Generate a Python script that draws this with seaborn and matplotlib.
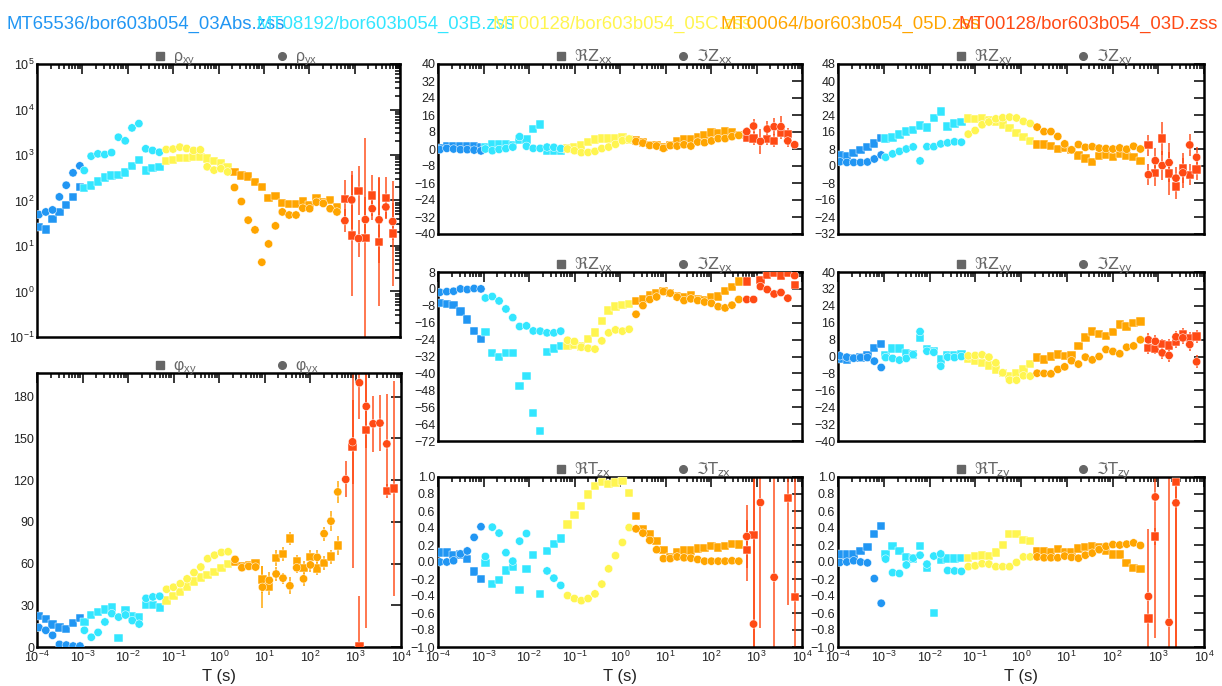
import numpy as np
import pandas as pd
import matplotlib
matplotlib.use("Agg")
import matplotlib.pyplot as plt
import matplotlib.transforms as mtransforms
from matplotlib.ticker import (LogLocator, MultipleLocator, FuncFormatter,
                               LogFormatterSciNotation, NullFormatter)
import seaborn as sns

nan = np.nan

# ---------------- periods of the five files ----------------
T_A = [1.10e-4, 1.56e-4, 2.20e-4, 3.11e-4, 4.40e-4, 6.22e-4, 8.80e-4]
T_B = [1.10e-3, 1.56e-3, 2.20e-3, 3.11e-3, 4.40e-3, 6.22e-3, 8.80e-3,
       1.24e-2, 1.76e-2, 2.49e-2, 3.52e-2, 4.98e-2]
T_C = [0.0704, 0.0996, 0.141, 0.199, 0.282, 0.398, 0.563, 0.797, 1.13, 1.59]
T_D = [2.25, 3.19, 4.51, 6.37, 9.01, 12.7, 18.0, 25.5, 36.1, 51.0, 72.1,
       102, 144, 204, 289, 408]
T_E = [610, 862, 1220, 1724, 2440, 3450, 4880, 6900]

SOURCES = ["A", "B", "C", "D", "E"]
SRC_COLORS = ["#2196F3", "#33E6FF", "#FFF550", "#FFA500", "#FF4A14"]
TITLES = ["MT65536/bor603b054_03Abs.zss", "MT08192/bor603b054_03B.zss",
          "MT00128/bor603b054_05C.zss", "MT00064/bor603b054_05D.zss",
          "MT00128/bor603b054_03D.zss"]

# ---------------- apparent resistivity ----------------
rho_xy = ([26, 23, 39, 55, 79, 120, 196] +
          [186, 214, 262, 320, 354, 360, 412, 568, 770, 457, 522, 550] +
          [730, 780, 870, 870, 910, 890, 835, 750, 650, 540] +
          [425, 355, 337, 253, 196, 113, 125, 87, 83, 83, 97, 80, 110, 92, 102, 72] +
          [109, 17, 163, 15, 129, 12.3, 112, 18.8])
rho_yx = ([49, 56, 62, 120, 217, 405, 578] +
          [457, 942, 1060, 1025, 1130, 2460, 2050, 3940, 4900, 1370, 1260, 1150] +
          [1320, 1350, 1490, 1390, 1260, 1300, 550, 465, 500, 425] +
          [193, 95, 37, 22.6, 4.4, 11.1, 27.7, 56, 48, 48, 68, 66, 92, 86, 66, 56] +
          [36, 103, 14.6, 38, 66, 37.6, 72, 34.5])
rho_xy_E_dlog = [0.42, 1.33, 0.54, 2.2, 0.46, 1.4, 0.46, 1.15]
rho_yx_E_dlog = [0.25, 0.63, 0.4, 0.5, 0.25, 0.95, 0.25, 0.4]

# ---------------- phase ----------------
phi_xy = ([22.4, 20.2, 16.1, 14, 13, 17.3, 21] +
          [18, 23, 25, 27, 28.5, 6.5, 26.5, 22.5, 21.5, 30, 30, 28.5] +
          [33.5, 36.5, 39.5, 43.5, 47, 50, 52, 54, 57, 59.5] +
          [61, 58, 58.5, 60, 48.5, 43.5, 64, 67, 78, 62, 57, 64.5, 56.5, 60.5, 65, 73] +
          [nan, 144, 0.5, 156, nan, nan, 112, 114])
phi_yx = ([14, 12, 8.4, 1.9, 1.4, 0.7, 0.7] +
          [12, 7, 10.5, 18, 24, 21.5, 23, 19, 16.5, 35, 36, 36.5] +
          [41.5, 43, 45.5, 49, 53.5, 57.5, 63.5, 66, 68, 68.5] +
          [63, 57, 58, 57.5, 43, 48, 52.5, 49.5, 44, 57, 49, 59, 64.5, 81.5, 90.5, 111.5] +
          [120.5, 147.5, 190, 173, 160.5, 161, 146, nan])
phi_xy_D_err = [2, 2, 2, 2, 10, 6, 6, 5, 5, 4, 5, 5, 5, 5, 5, 7]
phi_yx_D_err = [2, 2, 2, 2, 15, 6, 5, 4, 6, 4, 5, 5, 5, 5, 7, 8]
phi_xy_E_err = [nan, 87, 36, 142, nan, nan, 5, 77]
phi_yx_E_err = [13, 30, 26, 30, 20, 20, 36, nan]

# ---------------- Zxx ----------------
zxx_re = ([0.5, 1.2, 1.2, 1.2, 1.2, 1.2, 1.0] +
          [1.0, 2.5, 2.5, 2.5, 2.0, 4.5, 4.4, 9.3, 11.6, -0.8, -1.0, -1.0] +
          [0.3, 0.9, 1.7, 3.3, 4.4, 4.9, 5.0, 5.0, 5.5, 4.4] +
          [4.0, 3.0, 2.0, 2.0, 1.0, 2.0, 3.6, 4.7, 4.7, 5.5, 6.6, 7.8, 7.5, 8.3, 8.0, 6.7] +
          [5.3, 5.0, nan, 4.7, 3.9, 7.7, 7.1, nan])
zxx_im = ([-0.3, 0.3, 0.0, -0.3, -0.3, -0.5, -0.9] +
          [0.0, -0.8, -0.2, 0.2, 0.9, 5.8, 1.3, 0.3, 0.3, 0.9, 0.8, 0.2] +
          [0.0, -0.8, -1.7, -1.6, -1.1, 0.2, 0.9, 2.2, 3.9, 4.7] +
          [3.5, 2.8, 1.7, 1.4, 0.3, 1.6, 1.4, 2.0, 1.4, 3.3, 3.0, 3.8, 4.9, 4.9, 5.8, 6.4] +
          [8.2, 10.8, 3.6, 9.4, 10.5, 10.5, 3.8, 2.0])
zxx_re_E_err = [2, 3, nan, 3, 3, 3, 3, nan]
zxx_im_E_err = [2, 3.5, 6, 4, 4, 5, 3, 2]

# ---------------- Zyx ----------------
zyx_re = ([-6.6, -7.1, -7.6, -10.7, -14.5, -19.9, -23.7] +
          [-20.5, -30.4, -32.3, -30.3, -30.4, -45.9, -41.2, -58.8, -67.2, -30.0, -28.2, -27.1] +
          [-27.0, -26.5, -27.3, -23.8, -20.7, -15.3, -10.3, -8.4, -7.6, -7.1] +
          [-5.8, -4.7, -3.0, -2.0, -1.1, -2.0, -3.5, -3.9, -3.2, -4.9, -5.2, -3.9, -3.6, -0.9, 0.8, 3.5] +
          [3.5, nan, 4.3, 6.6, 7.7, 6.3, 7.7, 1.9])
zyx_im = ([-1.6, -1.3, -1.1, 0.0, -0.3, 0.2, 0.0] +
          [-4.3, -3.6, -5.7, -9.5, -13.6, -17.8, -17.5, -19.9, -20.0, -20.8, -20.8, -20.0] +
          [-24.3, -24.9, -27.6, -28.1, -28.5, -24.6, -20.8, -19.4, -20.0, -19.1] +
          [-12.0, -7.9, -5.0, -3.8, -1.3, -2.0, -3.9, -5.5, -4.7, -5.5, -6.2, -6.8, -8.4, -9.0, -7.7, -5.0] +
          [-5.0, -5.0, 1.1, -0.3, -2.4, -1.7, -4.4, 6.3])
zyx_re_E_err = [1, nan, 1, 1, 1, 1, 1, 1]
zyx_im_E_err = [1, 1, 1, 1, 1, 1, 1, 1]

# ---------------- Tzx ----------------
tzx_re = ([0.11, 0.11, 0.08, 0.09, 0.035, -0.11, -0.2] +
          [-0.01, -0.26, -0.21, -0.1, -0.06, -0.33, -0.08, 0.085, -0.38, 0.13, 0.21, 0.275] +
          [0.44, 0.555, 0.66, 0.795, 0.895, 0.945, 0.92, 0.935, 0.955, 0.81] +
          [0.54, 0.39, 0.33, 0.25, 0.14, 0.06, 0.115, 0.135, 0.135, 0.16, 0.165, 0.19, 0.17, 0.19, 0.21, 0.205] +
          [0.14, 0.32, nan, nan, nan, nan, 0.75, -0.41])
tzx_im = ([0.0, 0.0, 0.015, 0.095, 0.13, 0.29, 0.415] +
          [0.065, 0.41, 0.34, 0.11, 0.01, 0.245, 0.335, nan, nan, -0.105, -0.19, -0.275] +
          [-0.395, -0.43, -0.455, -0.43, -0.375, -0.26, -0.08, 0.075, 0.23, 0.405] +
          [0.39, 0.34, 0.255, 0.145, 0.04, 0.04, 0.06, 0.05, 0.045, 0.03, 0.01, 0.01, 0.01, 0.01, 0.015, 0.01] +
          [0.30, -0.73, 0.70, nan, -0.18, nan, nan, nan])
tzx_re_E_err = [0.36, 2, nan, nan, nan, nan, 1.25, 2]
tzx_im_E_err = [0.37, 2, 1.48, nan, 2, nan, nan, nan]

# ---------------- Zxy ----------------
zxy_re = ([5.0, 4.6, 6.0, 7.4, 8.8, 10.6, 13.2] +
          [12.9, 13.4, 14.8, 16.2, 16.9, 19.1, 18.1, 22.6, 25.7, 18.6, 20.0, 20.7] +
          [22.4, 22.1, 22.7, 21.5, 20.7, 19.6, 17.8, 15.6, 13.7, 11.7] +
          [10.1, 10.1, 9.3, 8.0, 8.4, 7.6, 4.9, 3.6, 1.9, 4.6, 5.2, 4.1, 5.5, 4.6, 4.3, 2.5] +
          [9.8, -3.3, 12.9, -3.6, -9.6, -1.0, -4.1, -1.6])
zxy_im = ([2.0, 1.7, 1.7, 1.7, 1.9, 3.3, 5.2] +
          [4.1, 5.7, 6.9, 8.0, 9.0, 2.4, 9.1, 9.1, 10.4, 10.9, 11.4, 11.2] +
          [15.0, 16.7, 19.4, 20.7, 22.2, 22.7, 23.0, 22.6, 21.0, 20.0] +
          [18.3, 16.2, 16.2, 13.9, 10.4, 7.6, 10.1, 8.8, 9.1, 8.4, 8.2, 8.0, 8.5, 7.9, 9.3, 8.0] +
          [-4.1, 2.5, 0.2, 1.6, -5.7, -3.2, 9.9, 4.1])
zxy_re_E_err = [5, 6, 7.6, 10, 6, 7, 5, 5]
zxy_im_E_err = [5, 6, 7, 9, 5, 7, 5, 5]

# ---------------- Zyy ----------------
zyy_re = ([-1.1, -1.4, -0.8, -0.5, 0.8, 4.1, 5.8] +
          [0.8, 3.8, 3.8, 1.7, 1.0, 8.8, 3.6, 2.5, -1.4, 0.5, 0.8, 1.3] +
          [-1.1, -1.9, -3.0, -4.2, -6.1, -7.9, -9.1, -7.9, -6.1, -3.6] +
          [-0.5, -1.4, 0.0, 0.9, 0.3, 0.6, 5.0, 9.0, 11.8, 10.7, 9.7, 11.6, 15.1, 14.2, 16.0, 16.5] +
          [3.9, 3.5, 6.0, 5.2, 7.1, 10.7, 8.6, 9.4])
zyy_im = ([0.3, -0.3, -0.8, -0.5, -0.5, -2.2, -5.2] +
          [-0.5, -0.9, -1.7, -0.9, 0.9, 11.8, 2.5, 2.0, -4.6, -0.3, -0.5, 0.0] +
          [0.3, 0.5, 0.8, -0.3, -3.0, -7.7, -11.2, -11.2, -9.1, -9.3] +
          [-7.9, -8.0, -8.2, -6.1, -4.9, -2.0, -3.6, -0.3, -1.6, 0.0, 3.3, 2.4, 1.3, 4.4, 5.0, 7.9] +
          [7.9, 7.2, 1.7, 0.5, 9.3, 8.8, 5.7, -2.5])
zyy_re_E_err = [2.5, 2.5, 2.5, 3, 3, 3, 3, 3]
zyy_im_E_err = [3, 3, 3, 3, 3, 3, 3, 3]

# ---------------- Tzy ----------------
tzy_re = ([0.09, 0.09, 0.09, 0.13, 0.18, 0.33, 0.425] +
          [0.09, 0.19, 0.13, 0.06, 0.04, 0.19, -0.065, -0.6, 0.03, 0.04, 0.04, 0.045] +
          [0.05, 0.07, 0.077, 0.073, 0.11, 0.2, 0.33, 0.33, 0.26, 0.25] +
          [0.13, 0.13, 0.11, 0.15, 0.12, 0.11, 0.16, 0.18, 0.19, 0.17, 0.13, 0.09, 0.09, -0.01, -0.07, -0.08] +
          [-0.665, 0.30, nan, nan, 0.94, nan, nan, nan])
tzy_im = ([-0.005, 0.0, 0.015, 0.0, -0.01, -0.195, -0.485] +
          [0.035, -0.125, -0.135, -0.035, 0.045, 0.08, -0.025, 0.07, 0.095, -0.1, -0.105, -0.11] +
          [-0.055, -0.045, -0.02, -0.025, -0.055, -0.055, -0.055, -0.005, 0.06, 0.06] +
          [0.06, 0.05, 0.05, 0.05, 0.07, 0.055, 0.045, 0.08, 0.105, 0.145, 0.185, 0.205, 0.20, 0.21, 0.225, 0.195] +
          [-0.405, 0.765, nan, -0.71, 0.695, nan, nan, nan])
tzy_re_E_err = [0.05, 0.1, nan, nan, 2, nan, nan, nan]
tzy_im_E_err = [0.79, 1.66, nan, 2, 2, nan, nan, nan]

# ---------------- styling ----------------
sns.set_theme(style="white")
plt.rcParams["font.family"] = ["Liberation Sans", "DejaVu Sans"]
plt.rcParams["mathtext.fontset"] = "custom"
plt.rcParams["mathtext.rm"] = "Liberation Sans"
plt.rcParams["mathtext.it"] = "Liberation Sans:italic"
plt.rcParams["mathtext.bf"] = "Liberation Sans:bold"
plt.rcParams["axes.unicode_minus"] = True

W, H = 1222, 686
fig = plt.figure(figsize=(W / 100, H / 100), dpi=100)
fig.patch.set_facecolor("white")

T_ALL = T_A + T_B + T_C + T_D + T_E
SRC_ALL = (["A"] * len(T_A) + ["B"] * len(T_B) + ["C"] * len(T_C) +
           ["D"] * len(T_D) + ["E"] * len(T_E))
PALETTE = dict(zip(SOURCES, SRC_COLORS))
LEG_GRAY = "#666666"


def rect(x0, y0, x1, y1):
    return [x0 / W, 1 - y1 / H, (x1 - x0) / W, (y1 - y0) / H]


def minus_fmt(fmt):
    return FuncFormatter(lambda v, p: (fmt % v).replace("-", "\u2212")
                         if abs(v) > 1e-9 else (fmt % 0))


def make_panel(box, re, im, lab_re, lab_im, ylim, ystep=None, logy=False,
               xlabels=False, fmt="%d", mathfam=None):
    ax = fig.add_axes(rect(*box))
    rows = []
    n = len(T_ALL)
    for i in range(n):
        rows.append((T_ALL[i], re[i], SRC_ALL[i], "re"))
    for i in range(n):
        rows.append((T_ALL[i], im[i], SRC_ALL[i], "im"))
    df = pd.DataFrame(rows, columns=["T", "val", "src", "comp"]).dropna()
    sns.scatterplot(data=df, x="T", y="val", hue="src", style="comp",
                    hue_order=SOURCES, palette=PALETTE,
                    markers={"re": "s", "im": "o"}, s=36,
                    edgecolor="white", linewidth=0.35, legend=False,
                    ax=ax, zorder=3)
    ax.set_xscale("log")
    ax.set_xlim(1e-4, 1e4)
    if logy:
        ax.set_yscale("log")
        ax.yaxis.set_major_locator(LogLocator(base=10, numticks=20))
        ax.yaxis.set_minor_locator(LogLocator(base=10, subs=np.arange(2, 10), numticks=100))
        ax.yaxis.set_major_formatter(LogFormatterSciNotation())
    else:
        ax.yaxis.set_major_locator(MultipleLocator(ystep))
        ax.yaxis.set_major_formatter(minus_fmt(fmt))
    ax.set_ylim(*ylim)
    ax.xaxis.set_major_locator(LogLocator(base=10, numticks=20))
    ax.xaxis.set_minor_locator(LogLocator(base=10, subs=np.arange(2, 10), numticks=100))
    if xlabels:
        ax.xaxis.set_major_formatter(LogFormatterSciNotation())
        ax.set_xlabel("T (s)", fontsize=12, labelpad=3, color="#222222")
    else:
        ax.xaxis.set_major_formatter(NullFormatter())
        ax.set_xlabel("")
    ax.xaxis.set_minor_formatter(NullFormatter())
    ax.set_ylabel("")
    ax.tick_params(which="both", direction="in", top=True, right=True,
                   labelsize=9, width=1.1, color="black", labelcolor="#222222", pad=2)
    ax.tick_params(which="major", length=7)
    ax.tick_params(which="minor", length=3.5)
    for sp in ax.spines.values():
        sp.set_linewidth(1.8)
        sp.set_color("black")
    ax.set_facecolor("white")
    # legend above the panel
    wpx = box[2] - box[0]
    tr = mtransforms.offset_copy(ax.transAxes, fig=fig, x=0, y=3, units="dots")
    trm = mtransforms.offset_copy(ax.transAxes, fig=fig, x=0, y=8, units="dots")
    for xm, lab, mk in [(123, lab_re, "s"), (245, lab_im, "o")]:
        ax.plot([xm / wpx], [1.0], marker=mk, ms=5.5, color=LEG_GRAY, mec=LEG_GRAY,
                transform=trm, clip_on=False, ls="none")
        kw = {}
        if mathfam:
            kw["math_fontfamily"] = mathfam
        ax.text((xm + 13) / wpx, 1.0, lab, transform=tr, fontsize=11.5,
                color=LEG_GRAY, va="baseline", ha="left", **kw)
    return ax


def add_err(ax, T, vals, errs, color, logy=False, lw=1.4, alpha=0.75):
    for t, v, e in zip(T, vals, errs):
        if np.isnan(v) or np.isnan(e):
            continue
        if logy:
            lo, hi = v * 10 ** (-e), v * 10 ** e
        else:
            lo, hi = v - e, v + e
        ax.vlines(t, lo, hi, color=color, lw=lw, alpha=alpha, zorder=2)


nA, nB, nC, nD = len(T_A), len(T_B), len(T_C), len(T_D)
iD = nA + nB + nC
iE = iD + nD
cD, cE = SRC_COLORS[3], SRC_COLORS[4]


def re_lab(q, sub):
    return r"$\Re\mathrm{%s}_{\mathrm{%s}}$" % (q, sub)


def im_lab(q, sub):
    return r"$\Im\mathrm{%s}_{\mathrm{%s}}$" % (q, sub)


DV = "dejavusans"

# left column
ax = make_panel((37, 64, 400, 337), rho_xy, rho_yx,
                "\u03c1$_{\\mathrm{xy}}$", "\u03c1$_{\\mathrm{yx}}$",
                (0.1, 1e5), logy=True)
add_err(ax, T_E, rho_xy[iE:], rho_xy_E_dlog, cE, logy=True)
add_err(ax, T_E, rho_yx[iE:], rho_yx_E_dlog, cE, logy=True)

ax = make_panel((37, 373, 401, 647), phi_xy, phi_yx,
                "\u03c6$_{\\mathrm{xy}}$", "\u03c6$_{\\mathrm{yx}}$",
                (0, 197), ystep=30, xlabels=True)
add_err(ax, T_D, phi_xy[iD:iE], phi_xy_D_err, cD)
add_err(ax, T_D, phi_yx[iD:iE], phi_yx_D_err, cD)
add_err(ax, T_E, phi_xy[iE:], phi_xy_E_err, cE)
add_err(ax, T_E, phi_yx[iE:], phi_yx_E_err, cE)

# middle column
ax = make_panel((438, 64, 802, 234), zxx_re, zxx_im,
                re_lab("Z", "xx"), im_lab("Z", "xx"),
                (-40, 40), ystep=8, mathfam=DV)
add_err(ax, T_E, zxx_re[iE:], zxx_re_E_err, cE)
add_err(ax, T_E, zxx_im[iE:], zxx_im_E_err, cE)

ax = make_panel((438, 272, 802, 441), zyx_re, zyx_im,
                re_lab("Z", "yx"), im_lab("Z", "yx"),
                (-72, 8), ystep=8, mathfam=DV)
add_err(ax, T_E, zyx_re[iE:], zyx_re_E_err, cE)
add_err(ax, T_E, zyx_im[iE:], zyx_im_E_err, cE)

ax = make_panel((438, 477, 802, 647), tzx_re, tzx_im,
                re_lab("T", "zx"), im_lab("T", "zx"),
                (-1, 1), ystep=0.2, xlabels=True, fmt="%.1f", mathfam=DV)
add_err(ax, T_E, tzx_re[iE:], tzx_re_E_err, cE)
add_err(ax, T_E, tzx_im[iE:], tzx_im_E_err, cE)

# right column
ax = make_panel((838, 64, 1204, 234), zxy_re, zxy_im,
                re_lab("Z", "xy"), im_lab("Z", "xy"),
                (-32, 48), ystep=8, mathfam=DV)
add_err(ax, T_E, zxy_re[iE:], zxy_re_E_err, cE)
add_err(ax, T_E, zxy_im[iE:], zxy_im_E_err, cE)

ax = make_panel((838, 272, 1204, 441), zyy_re, zyy_im,
                re_lab("Z", "yy"), im_lab("Z", "yy"),
                (-40, 40), ystep=8, mathfam=DV)
add_err(ax, T_E, zyy_re[iE:], zyy_re_E_err, cE)
add_err(ax, T_E, zyy_im[iE:], zyy_im_E_err, cE)

ax = make_panel((838, 477, 1204, 647), tzy_re, tzy_im,
                re_lab("T", "zy"), im_lab("T", "zy"),
                (-1, 1), ystep=0.2, xlabels=True, fmt="%.1f", mathfam=DV)
add_err(ax, T_E, tzy_re[iE:], tzy_re_E_err, cE)
add_err(ax, T_E, tzy_im[iE:], tzy_im_E_err, cE)

# file titles
for xs, txt, col in zip([7, 257, 492, 721, 958], TITLES, SRC_COLORS):
    fig.text(xs / W, 1 - 29 / H, txt, color=col, fontsize=13.3,
             va="baseline", ha="left")

fig.savefig("out.png", dpi=100, facecolor="white")
